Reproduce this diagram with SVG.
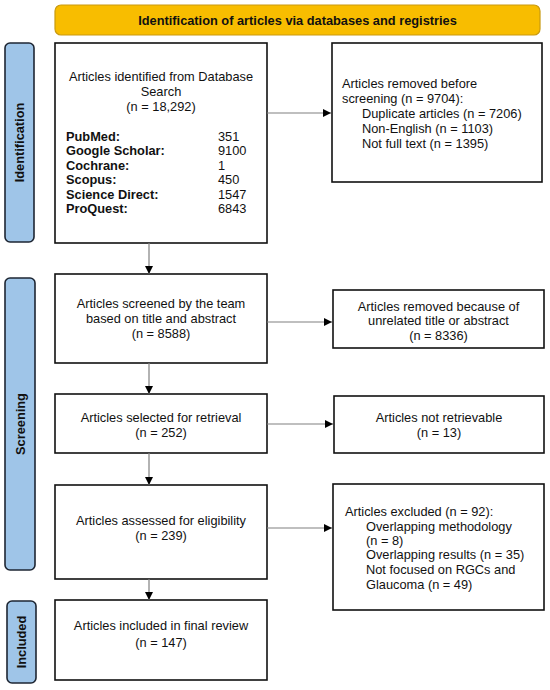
<svg xmlns="http://www.w3.org/2000/svg" width="550" height="690" viewBox="0 0 550 690">
<defs>
<marker id="ah" markerWidth="8" markerHeight="8" refX="8" refY="4" orient="auto" markerUnits="userSpaceOnUse">
<path d="M0,0 L8,4 L0,8 Z" fill="#000"/>
</marker>
<style>
.box{fill:#fff;stroke:#111;stroke-width:1.6}
.side{fill:#9fc5e8;stroke:#1e2633;stroke-width:1.6}
.ban{fill:#f8bd00;stroke:#c99a10;stroke-width:1.2}
.t{font-family:"Liberation Sans",Arial,sans-serif;font-size:12.8px;fill:#111}
.c{text-anchor:middle}
.b{font-weight:bold}
.con{stroke:#808080;stroke-width:1.2;fill:none}
</style>
</defs>
<rect width="550" height="690" fill="#fff"/>

<g id="banner">
<rect class="ban" x="55" y="5" width="485" height="30" rx="6"/>
<text class="t b c" x="297.5" y="25">Identification of articles via databases and registries</text>
</g>

<g id="side-identification">
<rect class="side" x="5" y="43" width="29" height="199" rx="5"/>
<text class="t b c" transform="translate(24,142.5) rotate(-90)">Identification</text>
</g>
<g id="side-screening">
<rect class="side" x="5" y="278" width="30" height="292" rx="5"/>
<text class="t b c" transform="translate(24.5,424) rotate(-90)">Screening</text>
</g>
<g id="side-included">
<rect class="side" x="7" y="601" width="29" height="82" rx="5"/>
<text class="t b c" transform="translate(26,642) rotate(-90)">Included</text>
</g>

<g id="identified">
<rect class="box" x="55" y="43" width="212" height="200"/>
<text class="t c" x="161" y="81">Articles identified from Database</text>
<text class="t c" x="161" y="96">Search</text>
<text class="t c" x="161" y="111">(n = 18,292)</text>
<text class="t b" x="66" y="140.5">PubMed:</text><text class="t" x="218" y="140.5">351</text>
<text class="t b" x="66" y="155">Google Scholar:</text><text class="t" x="218" y="155">9100</text>
<text class="t b" x="66" y="169.5">Cochrane:</text><text class="t" x="218" y="169.5">1</text>
<text class="t b" x="66" y="184">Scopus:</text><text class="t" x="218" y="184">450</text>
<text class="t b" x="66" y="198.5">Science Direct:</text><text class="t" x="218" y="198.5">1547</text>
<text class="t b" x="66" y="213">ProQuest:</text><text class="t" x="218" y="213">6843</text>
</g>

<g id="removed">
<rect class="box" x="332" y="43" width="210" height="139"/>
<text class="t" x="342" y="88">Articles removed before</text>
<text class="t" x="342" y="103">screening (n = 9704):</text>
<text class="t" x="362" y="118">Duplicate articles (n = 7206)</text>
<text class="t" x="362" y="132.5">Non-English (n = 1103)</text>
<text class="t" x="362" y="147.5">Not full text (n = 1395)</text>
</g>

<g id="screened">
<rect class="box" x="55" y="274" width="212" height="89"/>
<text class="t c" x="161" y="308">Articles screened by the team</text>
<text class="t c" x="161" y="323">based on title and abstract</text>
<text class="t c" x="161" y="338">(n = 8588)</text>
</g>

<g id="unrelated">
<rect class="box" x="333" y="290" width="211" height="58"/>
<text class="t c" x="438.5" y="310.5">Articles removed because of</text>
<text class="t c" x="438.5" y="325">unrelated title or abstract</text>
<text class="t c" x="438.5" y="340">(n = 8336)</text>
</g>

<g id="selected">
<rect class="box" x="55" y="394" width="212" height="59"/>
<text class="t c" x="161" y="422">Articles selected for retrieval</text>
<text class="t c" x="161" y="436.5">(n = 252)</text>
</g>

<g id="notretrievable">
<rect class="box" x="334" y="396" width="210" height="57"/>
<text class="t c" x="439" y="422">Articles not retrievable</text>
<text class="t c" x="439" y="436.5">(n = 13)</text>
</g>

<g id="assessed">
<rect class="box" x="55" y="485" width="212" height="94"/>
<text class="t c" x="161" y="525">Articles assessed for eligibility</text>
<text class="t c" x="161" y="539.5">(n = 239)</text>
</g>

<g id="excluded">
<rect class="box" x="333" y="484" width="211" height="126"/>
<text class="t" x="345" y="515.5">Articles excluded (n = 92):</text>
<text class="t" x="366" y="530.5">Overlapping methodology</text>
<text class="t" x="366" y="544.5">(n = 8)</text>
<text class="t" x="366" y="559">Overlapping results (n = 35)</text>
<text class="t" x="366" y="574">Not focused on RGCs and</text>
<text class="t" x="366" y="589">Glaucoma (n = 49)</text>
</g>

<g id="included">
<rect class="box" x="55" y="600" width="212" height="80"/>
<text class="t c" x="161" y="629.5">Articles included in final review</text>
<text class="t c" x="161" y="647">(n = 147)</text>
</g>

<g id="connectors">
<line class="con" x1="149" y1="243" x2="149" y2="274" marker-end="url(#ah)"/>
<line class="con" x1="149" y1="363" x2="149" y2="394" marker-end="url(#ah)"/>
<line class="con" x1="149" y1="453" x2="149" y2="485" marker-end="url(#ah)"/>
<line class="con" x1="149" y1="579" x2="149" y2="600" marker-end="url(#ah)"/>
<line class="con" x1="267" y1="113" x2="331" y2="113" marker-end="url(#ah)"/>
<line class="con" x1="267" y1="322" x2="332" y2="322" marker-end="url(#ah)"/>
<line class="con" x1="267" y1="424" x2="333" y2="424" marker-end="url(#ah)"/>
<line class="con" x1="267" y1="528" x2="332" y2="528" marker-end="url(#ah)"/>
</g>
</svg>
